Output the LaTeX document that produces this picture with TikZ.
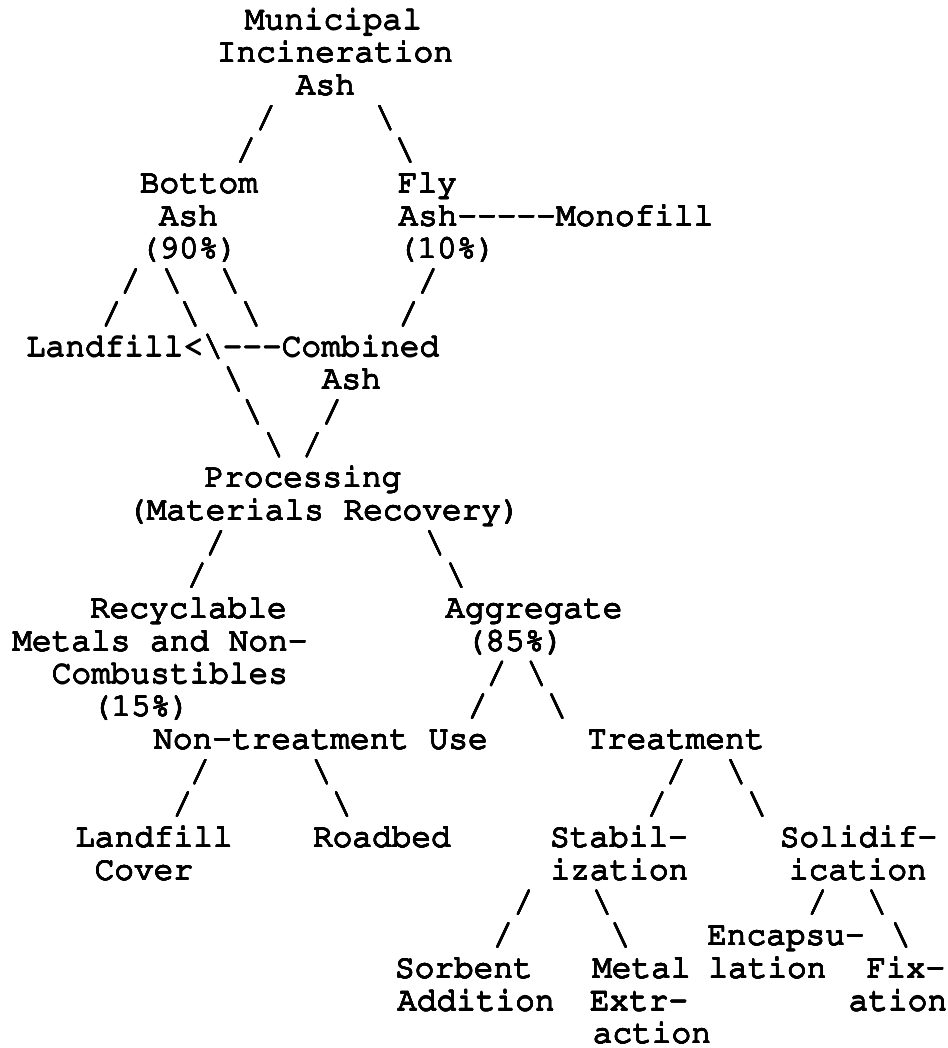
\documentclass[tikz,border=0pt]{standalone}
\usepackage[T1]{fontenc}
\usepackage[copies]{contour}
\contourlength{0.4pt}
\contournumber{16}
\newcommand\tmono{\fontfamily{pcr}\fontseries{m}\fontshape{n}\fontsize{24.6pt}{24.6pt}\selectfont}
\newcommand\ry[1]{(29.5+32.7*(#1))}
\newcommand\tw[1]{\contour{black}{#1}}
\newcommand\bs{\tw{\textbackslash}}
\newcommand\fs{\tw{/}}
\tikzset{
  lbl/.style={anchor=base, inner sep=0pt, outer sep=0pt, font=\tmono},
  sl/.style={anchor=base, inner sep=0pt, outer sep=0pt, font=\tmono}
}
\begin{document}
\begin{tikzpicture}[x=0.75pt,y=-0.75pt]
\useasboundingbox (0,0) rectangle (948,1048);
% row 0-2
\node[lbl] (mia1) at (333.5,{\ry{0}}) {\tw{Municipal}};
\node[lbl] (mia2) at (335,{\ry{1}}) {\tw{Incineration}};
\node[lbl] (mia3) at (325.5,{\ry{2}}) {\tw{Ash}};
\node[sl] (s3a) at (266,{\ry{3}}) {\fs};
\node[sl] (s3b) at (385,{\ry{3}}) {\bs};
\node[sl] (s4a) at (246,{\ry{4}}) {\fs};
\node[sl] (s4b) at (405,{\ry{4}}) {\bs};
% row 5-7
\node[lbl] (ba1) at (199,{\ry{5}}) {\tw{Bottom}};
\node[lbl] (fa1) at (427.5,{\ry{5}}) {\tw{Fly}};
\node[lbl] (ba2) at (188.5,{\ry{6}}) {\tw{Ash}};
\node[lbl] (fa2) at (556,{\ry{6}}) {\tw{Ash-{}-{}-{}-{}-Monofill}};
\node[lbl] (ba3) at (189,{\ry{7}}) {\tw{(90\%)}};
\node[lbl] (fa3) at (447,{\ry{7}}) {\tw{(10\%)}};
% row 8-9
\node[sl] (s8a) at (130.5,{\ry{8}}) {\fs};
\node[sl] (s8b) at (172,{\ry{8}}) {\bs};
\node[sl] (s8c) at (230,{\ry{8}}) {\bs};
\node[sl] (s8d) at (428,{\ry{8}}) {\fs};
\node[sl] (s9a) at (111.5,{\ry{9}}) {\fs};
\node[sl] (s9b) at (190,{\ry{9}}) {\bs};
\node[sl] (s9c) at (251,{\ry{9}}) {\bs};
\node[sl] (s9d) at (408.5,{\ry{9}}) {\fs};
% row 10-13
\node[lbl] (lf) at (232.7,{\ry{10}}) {\tw{Landfill<\textbackslash-{}-{}-Combined}};
\node[sl] (s11a) at (233.5,{\ry{11}}) {\bs};
\node[lbl] (ca2) at (351.5,{\ry{11}}) {\tw{Ash}};
\node[sl] (s12a) at (252.5,{\ry{12}}) {\bs};
\node[sl] (s12b) at (332,{\ry{12}}) {\fs};
\node[sl] (s13a) at (273.7,{\ry{13}}) {\bs};
\node[sl] (s13b) at (312.3,{\ry{13}}) {\fs};
% row 14-17
\node[lbl] (pr1) at (303,{\ry{14}}) {\tw{Processing}};
\node[lbl] (pr2) at (324,{\ry{15}}) {\tw{(Materials Recovery)}};
\node[sl] (s16a) at (215.6,{\ry{16}}) {\fs};
\node[sl] (s16b) at (434.8,{\ry{16}}) {\bs};
\node[sl] (s17a) at (197,{\ry{17}}) {\fs};
\node[sl] (s17b) at (456,{\ry{17}}) {\bs};
% row 18-21
\node[lbl] (rm1) at (188.5,{\ry{18}}) {\tw{Recyclable}};
\node[lbl] (ag1) at (534,{\ry{18}}) {\tw{Aggregate}};
\node[lbl] (rm2) at (160,{\ry{19}}) {\tw{Metals and Non-}};
\node[lbl] (ag2) at (515,{\ry{19}}) {\tw{(85\%)}};
\node[lbl] (rm3) at (170,{\ry{20}}) {\tw{Combustibles}};
\node[sl] (s20a) at (496.6,{\ry{20}}) {\fs};
\node[sl] (s20b) at (536.4,{\ry{20}}) {\bs};
\node[lbl] (rm4) at (141,{\ry{21}}) {\tw{(15\%)}};
\node[sl] (s21a) at (477.6,{\ry{21}}) {\fs};
\node[sl] (s21b) at (557,{\ry{21}}) {\bs};
% row 22-24
\node[lbl] (nt) at (320.6,{\ry{22}}) {\tw{Non-treatment Use}};
\node[lbl] (tr) at (676,{\ry{22}}) {\tw{Treatment}};
\node[sl] (s23a) at (200,{\ry{23}}) {\fs};
\node[sl] (s23b) at (321.5,{\ry{23}}) {\bs};
\node[sl] (s23c) at (676,{\ry{23}}) {\fs};
\node[sl] (s23d) at (736,{\ry{23}}) {\bs};
\node[sl] (s24a) at (182.5,{\ry{24}}) {\fs};
\node[sl] (s24b) at (341.7,{\ry{24}}) {\bs};
\node[sl] (s24c) at (657,{\ry{24}}) {\fs};
\node[sl] (s24d) at (757,{\ry{24}}) {\bs};
% row 25-26
\node[lbl] (lc1) at (154,{\ry{25}}) {\tw{Landfill}};
\node[lbl] (rb) at (382,{\ry{25}}) {\tw{Roadbed}};
\node[lbl] (st1) at (619,{\ry{25}}) {\tw{Stabil-}};
\node[lbl] (so1) at (858.6,{\ry{25}}) {\tw{Solidif-}};
\node[lbl] (lc2) at (144,{\ry{26}}) {\tw{Cover}};
\node[lbl] (st2) at (619.5,{\ry{26}}) {\tw{ization}};
\node[lbl] (so2) at (858,{\ry{26}}) {\tw{ication}};
% row 27-28
\node[sl] (s27a) at (523.5,{\ry{27}}) {\fs};
\node[sl] (s27b) at (602,{\ry{27}}) {\bs};
\node[sl] (s27c) at (817.5,{\ry{27}}) {\fs};
\node[sl] (s27d) at (877,{\ry{27}}) {\bs};
\node[sl] (s28a) at (503,{\ry{28}}) {\fs};
\node[sl] (s28b) at (620.3,{\ry{28}}) {\bs};
\node[lbl] (en1) at (786,{\ry{28}}) {\tw{Encapsu-}};
\node[sl] (s28d) at (900.8,{\ry{28}}) {\bs};
% row 29-31
\node[lbl] (sa1) at (464,{\ry{29}}) {\tw{Sorbent}};
\node[lbl] (me1) at (641.5,{\ry{29}}) {\tw{Metal}};
\node[lbl] (en2) at (767.5,{\ry{29}}) {\tw{lation}};
\node[lbl] (fx1) at (906,{\ry{29}}) {\tw{Fix-}};
\node[lbl] (sa2) at (476,{\ry{30}}) {\tw{Addition}};
\node[lbl] (me2) at (639,{\ry{30}}) {\tw{Extr-}};
\node[lbl] (fx2) at (898,{\ry{30}}) {\tw{ation}};
\node[lbl] (me3) at (652,{\ry{31}}) {\tw{action}};
\end{tikzpicture}
\end{document}
